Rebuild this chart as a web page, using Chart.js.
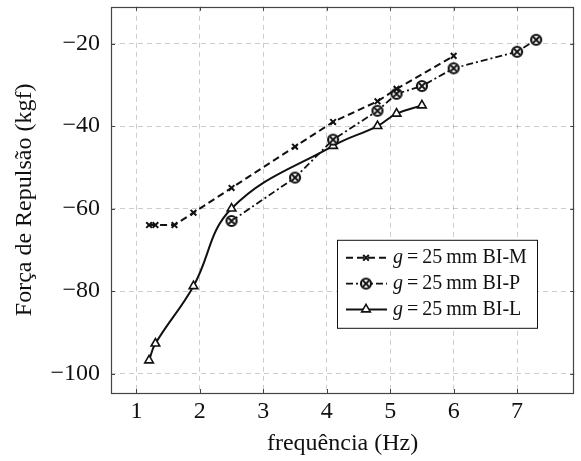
<!DOCTYPE html>
<html>
<head>
<meta charset="utf-8">
<script src="https://cdn.jsdelivr.net/npm/chart.js@4/dist/chart.umd.min.js"></script>
<style>
  body { margin: 0; background: #fff; }
</style>
</head>
<body>
<canvas id="chart" width="581" height="461"></canvas>
<script>
// tick labels
var xTicks = [1, 2, 3, 4, 5, 6, 7];
var yTicks = [-100, -80, -60, -40, -20];

// series
var seriesNames = ['BI-M', 'BI-P', 'BI-L'];
var freqM = [1.2, 1.3, 1.6, 1.9, 2.5, 3.5, 4.1, 4.8, 5.1, 6.0];
var forceM = [-64, -64, -64, -61, -55, -45, -39, -34, -31, -23];
var freqP = [2.5, 3.5, 4.1, 4.8, 5.1, 5.5, 6.0, 7.0, 7.3];
var forceP = [-63, -52.5, -43.3, -36.3, -32.2, -30.3, -26, -22, -19.1];
var freqL = [1.2, 1.3, 1.9, 2.5, 4.1, 4.8, 5.1, 5.5];
var forceL = [-96.8, -92.7, -78.8, -60, -44.8, -40, -37, -35];

var FONT = '"Liberation Serif", "Times New Roman", serif';

function toPoints(xs, ys) {
    var pts = [];
    for (var i = 0; i < xs.length; i++) {
        pts.push({x: xs[i], y: ys[i]});
    }
    return pts;
}

function minus(v) {
    return v < 0 ? '\u2212' + Math.abs(v) : '' + v;
}

// circle with a cross (otimes) marker
function makeOtimes() {
    var c = document.createElement('canvas');
    c.width = 14; c.height = 14;
    var g = c.getContext('2d');
    g.fillStyle = '#fff';
    g.strokeStyle = '#111';
    g.lineWidth = 2.2;
    g.beginPath();
    g.arc(7, 7, 5, 0, Math.PI * 2);
    g.fill();
    g.stroke();
    g.lineWidth = 1.8;
    g.beginPath();
    g.moveTo(4, 4); g.lineTo(10, 10);
    g.moveTo(10, 4); g.lineTo(4, 10);
    g.stroke();
    return c;
}
var otimes = makeOtimes();

var frame = {
    id: 'frame',
    afterDraw: function(chart) {
        var ctx = chart.ctx;
        var a = chart.chartArea;
        var xs = chart.scales.x, ys = chart.scales.y;
        ctx.save();
        ctx.strokeStyle = '#444';
        ctx.lineWidth = 1;
        ctx.beginPath();
        xTicks.forEach(function(v) {
            var px = Math.round(xs.getPixelForValue(v)) + 0.5;
            ctx.moveTo(px, a.bottom); ctx.lineTo(px, a.bottom - 4);
            ctx.moveTo(px, a.top); ctx.lineTo(px, a.top + 4);
        });
        yTicks.forEach(function(v) {
            var py = Math.round(ys.getPixelForValue(v)) + 0.5;
            ctx.moveTo(a.left, py); ctx.lineTo(a.left + 4, py);
            ctx.moveTo(a.right, py); ctx.lineTo(a.right - 4, py);
        });
        ctx.stroke();
        ctx.lineWidth = 1.2;
        ctx.strokeRect(Math.round(a.left) + 0.5, Math.round(a.top) + 0.5,
            Math.round(a.right - a.left) - 1, Math.round(a.bottom - a.top));
        ctx.restore();
    }
};

var legendBox = {
    id: 'legendBox',
    afterDraw: function(chart) {
        var ctx = chart.ctx;
        var a = chart.chartArea;
        var x0 = a.left + 226, y0 = a.top + 233, w = 200, h = 88;
        ctx.save();
        ctx.fillStyle = '#fff';
        ctx.fillRect(x0, y0, w, h);
        ctx.strokeStyle = '#111';
        ctx.lineWidth = 1;
        ctx.strokeRect(x0 + 0.5, y0 + 0.5, w, h);
        chart.data.datasets.forEach(function(ds, i) {
            var y = y0 + 18 + i * 25.8;
            ctx.save();
            ctx.strokeStyle = ds.borderColor;
            ctx.lineWidth = ds.borderWidth;
            ctx.setLineDash(ds.borderDash || []);
            ctx.beginPath();
            ctx.moveTo(x0 + 9, y);
            ctx.lineTo(x0 + 50, y);
            ctx.stroke();
            ctx.setLineDash([]);
            ctx.fillStyle = ds.pointBackgroundColor;
            ctx.strokeStyle = ds.pointBorderColor;
            ctx.lineWidth = ds.pointBorderWidth;
            Chart.helpers.drawPoint(ctx, {
                pointStyle: ds.pointStyle,
                radius: ds.pointRadius,
                borderWidth: ds.pointBorderWidth,
                rotation: 0
            }, x0 + 29, y);
            ctx.restore();

            var tx = x0 + 56;
            ctx.fillStyle = '#111';
            ctx.textBaseline = 'middle';
            ctx.textAlign = 'left';
            ctx.font = 'italic 20px ' + FONT;
            ctx.fillText('g', tx, y);
            tx += ctx.measureText('g').width + 4;
            ctx.font = '20px ' + FONT;
            ctx.fillText('=', tx, y);
            tx += ctx.measureText('=').width + 4;
            var rest = '25\u2009mm ' + seriesNames[i];
            ctx.fillText(rest, tx, y);
        });
        ctx.restore();
    }
};

var ctx = document.getElementById('chart').getContext('2d');
new Chart(ctx, {
    type: 'line',
    data: {
        datasets: [
            {
                label: seriesNames[0],
                data: toPoints(freqM, forceM),
                borderColor: '#111',
                borderWidth: 2,
                borderDash: [7, 4],
                tension: 0,
                pointStyle: 'crossRot',
                pointRadius: 4,
                pointBorderWidth: 2,
                pointBorderColor: '#111',
                pointBackgroundColor: '#111'
            },
            {
                label: seriesNames[1],
                data: toPoints(freqP, forceP),
                borderColor: '#111',
                borderWidth: 1.8,
                borderDash: [7, 3, 2, 3],
                tension: 0,
                pointStyle: otimes,
                pointRadius: 5,
                pointBorderWidth: 1.8,
                pointBorderColor: '#111',
                pointBackgroundColor: '#fff'
            },
            {
                label: seriesNames[2],
                data: toPoints(freqL, forceL),
                borderColor: '#111',
                borderWidth: 2,
                tension: 0.4,
                pointStyle: 'triangle',
                pointRadius: 5,
                pointBorderWidth: 1.6,
                pointBorderColor: '#111',
                pointBackgroundColor: '#fff'
            }
        ]
    },
    options: {
        responsive: false,
        animation: false,
        devicePixelRatio: 1,
        layout: { padding: { top: 6, right: 0, left: 0, bottom: 0 } },
        plugins: {
            legend: { display: false },
            tooltip: { enabled: false }
        },
        scales: {
            x: {
                type: 'linear',
                min: 0.6,
                max: 7.9,
                afterFit: function(s) {
                    s.height = 68;
                    s.paddingLeft = 0; s.paddingRight = 0;
                },
                afterBuildTicks: function(s) {
                    s.ticks = xTicks.map(function(v) { return {value: v}; });
                },
                grid: { color: 'rgba(0,0,0,0.2)', drawTicks: false },
                border: { display: false, dash: [5, 4] },
                ticks: {
                    padding: 4,
                    color: '#111',
                    font: { family: FONT, size: 24 },
                    maxRotation: 0,
                    callback: function(v) { return minus(v); }
                },
                title: {
                    display: true,
                    text: 'frequência (Hz)',
                    color: '#111',
                    font: { family: FONT, size: 24 },
                    padding: { top: 0, bottom: 3 }
                }
            },
            y: {
                type: 'linear',
                min: -104.7,
                max: -11.1,
                afterFit: function(s) {
                    s.width = 111;
                    s.paddingTop = 0; s.paddingBottom = 0;
                },
                afterBuildTicks: function(s) {
                    s.ticks = yTicks.map(function(v) { return {value: v}; });
                },
                grid: { color: 'rgba(0,0,0,0.2)', drawTicks: false },
                border: { display: false, dash: [5, 4] },
                ticks: {
                    padding: 11,
                    color: '#111',
                    font: { family: FONT, size: 24 },
                    callback: function(v) { return minus(v); }
                },
                title: {
                    display: true,
                    text: 'Força de Repulsão (kgf)',
                    color: '#111',
                    font: { family: FONT, size: 24 },
                    padding: { top: 10.5, bottom: 0 }
                }
            }
        }
    },
    plugins: [frame, legendBox]
});
</script>
</body>
</html>
